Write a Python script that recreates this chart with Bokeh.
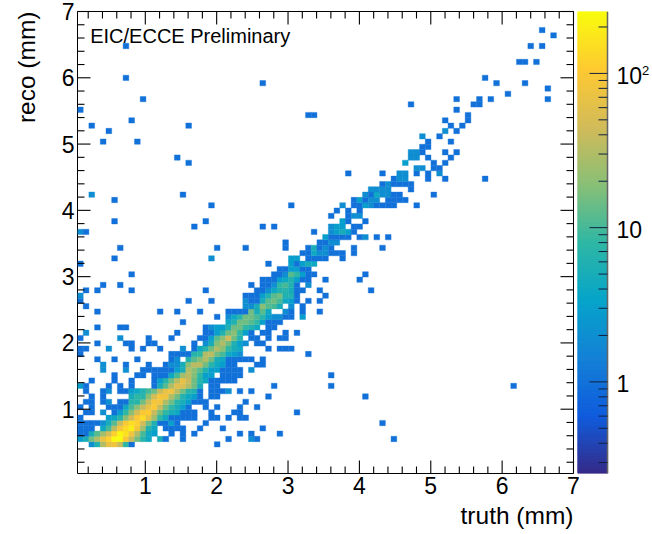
from bokeh.plotting import figure
from bokeh.layouts import row
from bokeh.models import (FixedTicker, LogColorMapper, Label, Title,
                          ColumnDataSource, Range1d)
from bokeh.core.properties import value
from bokeh.transform import transform
from bokeh.embed import file_html
from bokeh.resources import INLINE

# Each row: (truth bin, entries) for one reco bin
r05 = [(2,2),(3,6),(4,30),(5,70),(6,80),(7,40),(8,8),(9,1),(24,1)]
r06 = [(0,3),(1,5),(2,15),(3,30),(4,70),(5,120),(6,250),(7,250),(8,100),(9,40),(10,15),(11,7),(12,4),(14,5),(15,1),(18,1),(26,1),(30,2),(31,1),(55,1)]
r07 = [(0,1),(1,1),(2,5),(3,12),(4,25),(5,50),(6,120),(7,230),(8,160),(9,80),(10,30),(11,10),(12,4),(13,3),(16,1),(18,1),(20,1),(28,1),(30,1),(35,1)]
r08 = [(0,1),(1,1),(2,1),(4,4),(5,10),(6,35),(7,90),(8,140),(9,200),(10,90),(11,25),(12,6),(13,4),(15,1),(16,1),(17,1),(18,1),(21,1),(25,1),(32,1)]
r09 = [(0,1),(1,1),(2,1),(3,1),(4,2),(5,5),(6,12),(7,40),(8,100),(9,150),(10,120),(11,45),(12,15),(13,6),(14,1),(15,1),(16,3),(17,1),(22,1),(53,1)]
r10 = [(0,1),(5,3),(6,4),(7,7),(8,20),(9,45),(10,100),(11,140),(12,70),(13,25),(14,8),(15,4),(16,1),(17,1),(18,1),(19,1),(20,1),(23,1),(24,1),(26,1),(28,1),(29,1)]
r11 = [(1,1),(2,1),(4,2),(6,1),(7,3),(8,8),(9,20),(10,50),(11,100),(12,110),(13,40),(14,15),(15,8),(16,5),(17,4),(18,1),(19,1),(20,1),(23,1),(27,1),(28,1),(38,1)]
r12 = [(0,1),(2,1),(5,1),(6,1),(7,1),(8,4),(9,10),(10,20),(11,40),(12,70),(13,100),(14,40),(15,15),(16,8),(17,5),(18,3),(19,1),(22,1),(24,1),(28,1),(31,1)]
r13 = [(1,1),(2,1),(4,1),(5,2),(7,1),(8,1),(9,7),(10,7),(11,15),(12,40),(13,90),(14,80),(15,30),(16,15),(17,7),(18,5),(19,3),(20,1),(21,1),(22,1),(29,1)]
r14 = [(2,1),(4,1),(9,5),(10,8),(11,7),(12,20),(13,50),(14,90),(15,80),(16,30),(17,15),(18,6),(19,4),(20,3),(21,1),(23,1),(24,1),(33,1),(50,1)]
r15 = [(1,1),(4,1),(5,2),(7,1),(8,1),(9,3),(10,4),(11,6),(12,10),(13,15),(14,40),(15,70),(16,80),(17,35),(18,15),(19,7),(20,6),(21,1),(23,1),(24,1),(25,1),(26,2),(28,1),(30,1)]
r16 = [(0,3),(1,1),(5,1),(7,1),(9,1),(13,1),(14,5),(15,12),(16,30),(17,60),(18,55),(19,30),(20,15),(21,5),(23,1),(24,1),(34,1),(44,1),(76,1)]
r17 = [(2,1),(6,1),(9,1),(13,1),(14,3),(15,7),(16,15),(17,35),(18,70),(19,40),(20,15),(21,7),(22,4),(23,1),(24,1),(25,1),(26,1),(27,1)]
r18 = [(6,1),(10,1),(11,1),(13,1),(14,1),(15,1),(16,4),(17,10),(18,25),(19,35),(20,18),(21,8),(22,3),(23,3),(25,1),(26,1),(27,1),(28,1),(44,1)]
r19 = [(4,2),(8,2),(11,1),(12,1),(13,1),(14,1),(15,1),(16,1),(17,3),(18,5),(19,30),(20,20),(21,12),(22,6),(23,3),(24,3),(25,1),(26,1),(27,1),(28,1),(30,2)]
r20 = [(4,2),(8,1),(12,1),(15,1),(16,2),(17,2),(18,5),(19,20),(20,35),(21,35),(22,15),(23,7),(24,4),(25,3),(26,1),(27,1),(31,1),(32,1)]
r21 = [(3,1),(6,1),(10,1),(16,1),(17,2),(19,6),(20,12),(21,18),(22,30),(23,15),(24,5),(25,4),(26,1),(27,1),(28,1),(29,1),(30,1),(32,1)]
r22 = [(0,1),(16,1),(17,1),(18,1),(19,1),(20,7),(21,8),(22,30),(23,35),(24,15),(25,10),(26,4),(27,3),(28,2),(40,1)]
r23 = [(0,1),(1,1),(5,2),(9,1),(11,1),(14,1),(18,2),(20,1),(21,4),(22,7),(23,15),(24,30),(25,20),(26,8),(27,5),(28,4),(33,1),(35,1),(36,1),(37,1)]
r24 = [(3,1),(8,1),(9,1),(12,1),(13,1),(20,1),(22,2),(23,5),(24,18),(25,30),(26,15),(27,6),(28,3),(29,2),(31,1),(32,1)]
r25 = [(0,1),(7,2),(12,1),(16,1),(21,1),(22,1),(23,3),(24,12),(25,20),(26,45),(27,15),(28,6),(30,1),(31,1),(33,1),(35,1),(36,1)]
r26 = [(1,2),(17,1),(22,1),(23,1),(24,3),(25,6),(26,15),(27,20),(28,8),(29,3),(30,1),(32,1),(33,1),(36,1),(38,1)]
r27 = [(3,1),(7,1),(8,1),(22,1),(23,2),(24,3),(25,3),(26,6),(27,15),(28,15),(29,8),(30,6),(31,4),(33,1),(34,1)]
r28 = [(18,1),(26,4),(27,6),(28,15),(29,15),(30,12),(31,8),(32,3),(33,1),(34,1),(35,1)]
r29 = [(24,1),(26,2),(27,4),(28,7),(29,15),(30,15),(31,10),(32,7),(33,3),(34,2),(35,2),(36,1),(37,1),(39,3)]
r30 = [(3,1),(14,1),(17,1),(21,1),(26,1),(27,1),(28,1),(29,1),(30,15),(31,5),(32,12),(33,4),(36,2),(37,1),(39,1),(42,1)]
r31 = [(1,1),(29,2),(30,2),(31,5),(32,20),(33,12),(34,10),(35,5),(37,2),(39,1)]
r32 = [(0,1),(19,1),(23,1),(29,2),(30,1),(31,1),(32,5),(33,12),(34,15),(35,10),(36,4),(37,3),(38,1),(40,1),(42,1)]
r33 = [(0,2),(29,1),(30,1),(31,1),(32,3),(33,6),(34,12),(35,15),(36,6),(37,6),(38,1),(43,1)]
r34 = [(1,1),(3,1),(9,1),(22,1),(31,1),(32,1),(33,2),(34,4),(35,6),(36,7),(37,5),(38,1),(39,1),(42,1),(51,1)]
r35 = [(4,1),(7,1),(30,1),(32,1),(33,1),(34,2),(35,8),(36,10),(37,6),(38,1),(40,2)]
r36 = [(32,1),(33,1),(34,1),(35,3),(36,4),(37,6),(38,3),(39,1),(40,1),(43,1),(49,1)]
r37 = [(9,1),(34,1),(35,1),(36,2),(37,12),(38,8),(39,3),(40,1),(41,1),(50,1)]
r38 = [(35,1),(36,1),(37,3),(38,3),(39,1),(40,1)]
r39 = [(0,1),(33,1),(37,3),(38,1),(39,3),(40,5),(41,4)]
r40 = [(6,1),(23,2),(37,3),(38,3),(40,1),(41,1),(42,1),(43,1),(46,1)]
r41 = [(39,1),(40,1),(41,4),(42,2),(43,2),(44,1),(45,1),(46,1),(48,1)]
r42 = [(7,1),(24,1),(29,1),(36,1),(40,1),(41,5),(42,1),(43,2),(44,1),(48,1),(53,1)]
r43 = [(36,1),(42,1),(43,1),(44,2),(45,2)]
r44 = [(43,3),(44,1),(45,1),(46,1),(47,1),(49,1),(50,2),(52,1),(54,1)]
r45 = [(0,2),(1,1),(41,1),(44,2),(45,3),(46,5),(47,3),(48,1)]
r46 = [(20,1),(32,1),(34,1),(44,2),(45,3),(46,3),(48,1),(49,1)]
r47 = [(6,1),(22,1),(46,3),(47,1),(50,1)]
r48 = [(44,1),(47,1),(48,2),(49,2)]
r49 = [(45,1),(47,1),(49,1)]
r50 = [(23,1),(37,1),(46,2),(48,1),(49,1),(50,3),(51,2),(52,1),(53,1),(54,1),(55,1),(59,1)]
r51 = [(6,1),(48,1),(49,3),(50,1),(51,2),(52,2),(54,1),(55,1),(56,1),(57,1)]
r52 = [(2,2),(18,1),(50,2),(51,1),(52,4),(53,2),(54,2),(55,1),(56,1),(62,1)]
r53 = [(51,2),(52,2),(53,2),(54,2),(58,1)]
r54 = [(53,1),(54,2),(55,1),(56,1),(57,1),(58,1)]
r55 = [(55,1),(56,2),(57,2),(61,1),(64,1),(71,1)]
r56 = [(47,1),(53,1),(56,2),(57,2),(59,1),(61,1),(63,2)]
r57 = [(59,2),(60,2),(62,1),(63,1)]
r58 = [(19,1),(57,3),(62,1),(64,1)]
r59 = [(17,1),(58,2),(59,2),(61,1),(65,1)]
r60 = [(58,2),(59,2),(60,1),(64,1),(66,1)]
r61 = [(60,1),(61,1)]
r62 = [(4,1),(10,1),(61,1),(65,1)]
r63 = [(60,2),(63,1)]
r64 = [(5,1),(64,2),(66,1)]
r65 = [(2,1),(19,1),(65,1),(67,1)]
r66 = [(9,1),(64,1),(68,1)]
r67 = [(40,1),(41,1),(68,1)]
r68 = [(0,1),(66,1)]
r69 = [(58,1),(69,1),(70,1)]
r70 = [(11,1),(66,1),(70,1),(72,1),(82,1)]
r71 = [(75,1)]
r72 = [(82,1)]
r73 = [(32,1),(73,1),(78,1)]
r74 = [(8,1),(71,1)]
r77 = [(77,1),(78,1),(80,1)]
r80 = [(8,1),(79,1),(81,1)]
r82 = [(83,1)]
r83 = [(81,1)]

x_ticks = [1, 2, 3, 4, 5, 6, 7]
y_ticks = [1, 2, 3, 4, 5, 6, 7]
minor_ticks = [0.2, 0.4, 0.6, 0.8, 1.2, 1.4, 1.6, 1.8, 2.2, 2.4, 2.6, 2.8, 3.2, 3.4, 3.6, 3.8,
               4.2, 4.4, 4.6, 4.8, 5.2, 5.4, 5.6, 5.8, 6.2, 6.4, 6.6, 6.8]
z_ticks = [1, 10, 100]
z_labels = ["1", "10", "10"]
z_minor = [0.3, 0.4, 0.5, 0.6, 0.7, 0.8, 0.9, 2, 3, 4, 5, 6, 7, 8, 9,
           20, 30, 40, 50, 60, 70, 80, 90, 200]

X_LOW, X_HIGH, Y_LOW, Y_HIGH, N_BINS = 0.05, 7.0, 0.03, 7.0, 87
Z_LOW, Z_HIGH = 0.2547, 252.0

# ROOT kBird palette
BIRD = [(0.2082, 0.1664, 0.5293), (0.0592, 0.3599, 0.8684), (0.0780, 0.5041, 0.8385),
        (0.0232, 0.6419, 0.7914), (0.1802, 0.7178, 0.6425), (0.5301, 0.7492, 0.4662),
        (0.8186, 0.7328, 0.3499), (0.9956, 0.7862, 0.1968), (0.9764, 0.9832, 0.0539)]
palette = []
for i in range(256):
    t = i / 255 * (len(BIRD) - 1)
    k = min(int(t), len(BIRD) - 2)
    f = t - k
    c = [BIRD[k][j] * (1 - f) + BIRD[k + 1][j] * f for j in range(3)]
    palette.append("#%02x%02x%02x" % tuple(int(round(v * 255)) for v in c))

dx = (X_HIGH - X_LOW) / N_BINS
dy = (Y_HIGH - Y_LOW) / N_BINS
left, right, bottom, top, counts = [], [], [], [], []
for iy in range(N_BINS):
    for ix, n in globals().get(f"r{iy:02d}", []):
        left.append(X_LOW + ix * dx)
        right.append(X_LOW + (ix + 1) * dx)
        bottom.append(Y_LOW + iy * dy)
        top.append(Y_LOW + (iy + 1) * dy)
        counts.append(n)
source = ColumnDataSource(dict(left=left, right=right, bottom=bottom, top=top, counts=counts))

mapper = LogColorMapper(palette=palette, low=Z_LOW, high=Z_HIGH)

FONT = "Liberation Sans"
p = figure(frame_width=496, frame_height=462, output_backend="svg", toolbar_location=None,
           x_range=Range1d(X_LOW, X_HIGH), y_range=Range1d(Y_LOW, Y_HIGH),
           min_border_left=77, min_border_right=11, min_border_top=11, min_border_bottom=60,
           background_fill_color="white", border_fill_color="white",
           outline_line_color="black", outline_line_width=1,
           margin=(0, -8, 0, 0))
p.grid.visible = False
p.quad(left="left", right="right", bottom="bottom", top="top", source=source,
       fill_color=transform("counts", mapper), line_color=transform("counts", mapper),
       line_width=0.4)

# Inward ticks on all four sides of the frame, on top of the cells
def frame_ticks(positions, x_len, y_len):
    xs, ys = [], []
    for t in positions:
        xs += [[t, t], [t, t], [X_LOW, X_LOW + x_len], [X_HIGH, X_HIGH - x_len]]
        ys += [[Y_LOW, Y_LOW + y_len], [Y_HIGH, Y_HIGH - y_len], [t, t], [t, t]]
    p.multi_line(xs=xs, ys=ys, line_color="#000000", line_width=1.1, level="overlay")
frame_ticks(x_ticks, 13 / 71.3, 13 / 66.3)
frame_ticks(minor_ticks, 7 / 71.3, 7 / 66.3)

for ax, ticks in ((p.xaxis[0], x_ticks), (p.yaxis[0], y_ticks)):
    ax.ticker = FixedTicker(ticks=ticks)
    ax.major_tick_in = 0
    ax.major_tick_out = 0
    ax.minor_tick_line_color = None
    ax.major_tick_line_color = None
    ax.axis_line_color = None
    ax.major_label_text_font = FONT
    ax.major_label_text_color = "black"
    ax.major_label_text_font_size = "23px"
    ax.major_label_standoff = 3

p.add_layout(Title(text="truth (mm)", align="right", vertical_align="bottom", text_font=FONT,
                   text_font_style="normal", text_font_size="24.5px", text_color="black",
                   standoff=6), "below")
p.add_layout(Title(text="\u00a0", text_font=FONT, text_font_size="15px", text_color="white",
                   standoff=0), "left")
p.add_layout(Title(text="reco (mm)", align="right", text_font=FONT,
                   text_font_style="normal", text_font_size="24.5px", text_color="black",
                   standoff=0), "left")
p.add_layout(Label(x=0.228, y=6.63, text="EIC/ECCE Preliminary", text_font=FONT,
                   text_font_size="20px", text_color="black", text_baseline="middle"))

# Colour scale: its own figure; x is in pixels from the strip's left edge
BAR_W, SCALE_W = 30, 74
ratio = (Z_HIGH / Z_LOW) ** (1 / len(palette))
strip_low = [Z_LOW * ratio ** i for i in range(len(palette))]
strip_high = [Z_LOW * ratio ** (i + 1) for i in range(len(palette))]
cb = figure(frame_width=SCALE_W, frame_height=462, output_backend="svg", toolbar_location=None,
            x_range=Range1d(0, SCALE_W), y_range=Range1d(Z_LOW, Z_HIGH), y_axis_type="log",
            y_axis_location=None, x_axis_location=None,
            min_border_left=1, min_border_right=0, min_border_top=11, min_border_bottom=60,
            outline_line_color=None, background_fill_color=None, border_fill_color=None)
cb.grid.visible = False
cb.quad(left=0, right=BAR_W, bottom=strip_low, top=strip_high, fill_color=palette,
        line_color=palette, line_width=1.2)
cb.segment(x0=[BAR_W] * 1, x1=[BAR_W] * 1, y0=[Z_LOW], y1=[Z_HIGH], line_color="#666666", line_width=1.5)
cb.segment(x0=[BAR_W - 18] * len(z_ticks), x1=[BAR_W] * len(z_ticks), y0=z_ticks, y1=z_ticks,
           line_color="#102040", line_width=1)
cb.segment(x0=[BAR_W - 9] * len(z_minor), x1=[BAR_W] * len(z_minor), y0=z_minor, y1=z_minor,
           line_color="#102040", line_width=1)
cb.text(x=[39] * len(z_ticks), y=z_ticks, text=z_labels, text_font=value(FONT),
        text_font_size="23px", text_color="black", text_baseline="middle", y_offset=2)
cb.text(x=[64.5], y=[105], text=["2"], text_font=value(FONT), text_font_size="13px",
        text_color="black", text_baseline="middle")

page = row(p, cb, spacing=0)
open("out.html", "w").write(file_html(page, INLINE))
